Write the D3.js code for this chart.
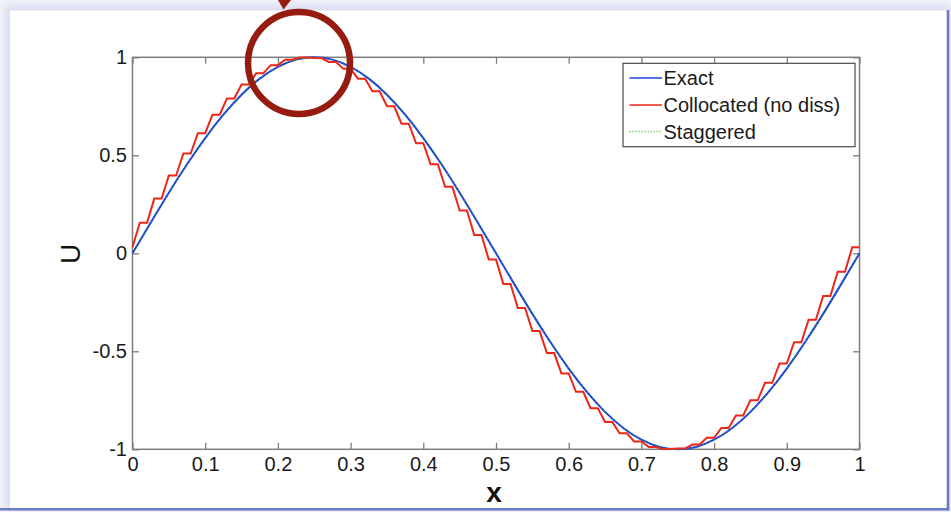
<!DOCTYPE html>
<html>
<head>
<meta charset="utf-8">
<script src="https://cdn.jsdelivr.net/npm/d3@7"></script>
<style>
  html, body { margin: 0; padding: 0; background: #ffffff; }
  svg { display: block; }
  text { font-family: "Liberation Sans", Arial, sans-serif; }
</style>
</head>
<body>
<svg id="chart" width="951" height="512"></svg>
<script>
// ---------------- DATA ----------------
// Exact solution U(x), read at x = 0, 0.025, ..., 1
const exactX = [0,0.025,0.05,0.075,0.1,0.125,0.15,0.175,0.2,0.225,0.25,0.275,0.3,0.325,0.35,0.375,0.4,0.425,0.45,0.475,0.5,
                0.525,0.55,0.575,0.6,0.625,0.65,0.675,0.7,0.725,0.75,0.775,0.8,0.825,0.85,0.875,0.9,0.925,0.95,0.975,1];
const exactU = [0,0.156,0.309,0.454,0.588,0.707,0.809,0.891,0.951,0.988,1,0.988,0.951,0.891,0.809,0.707,0.588,0.454,0.309,0.156,0,
                -0.156,-0.309,-0.454,-0.588,-0.707,-0.809,-0.891,-0.951,-0.988,-1,-0.988,-0.951,-0.891,-0.809,-0.707,-0.588,-0.454,-0.309,-0.156,0];
// Staggered scheme (visually on top of the exact curve)
const staggeredU = [0,0.156,0.309,0.454,0.588,0.707,0.809,0.891,0.951,0.988,1,0.988,0.951,0.891,0.809,0.707,0.588,0.454,0.309,0.156,0,
                -0.156,-0.309,-0.454,-0.588,-0.707,-0.809,-0.891,-0.951,-0.988,-1,-0.988,-0.951,-0.891,-0.809,-0.707,-0.588,-0.454,-0.309,-0.156,0];
// Collocated scheme (no dissipation): staircase, grid x = 0 ... 1 step 0.01
const collocX = [0,0.01,0.02,0.03,0.04,0.05,0.06,0.07,0.08,0.09,0.10,0.11,0.12,0.13,0.14,0.15,0.16,0.17,0.18,0.19,
                 0.20,0.21,0.22,0.23,0.24,0.25,0.26,0.27,0.28,0.29,0.30,0.31,0.32,0.33,0.34,0.35,0.36,0.37,0.38,0.39,
                 0.40,0.41,0.42,0.43,0.44,0.45,0.46,0.47,0.48,0.49,0.50,0.51,0.52,0.53,0.54,0.55,0.56,0.57,0.58,0.59,
                 0.60,0.61,0.62,0.63,0.64,0.65,0.66,0.67,0.68,0.69,0.70,0.71,0.72,0.73,0.74,0.75,0.76,0.77,0.78,0.79,
                 0.80,0.81,0.82,0.83,0.84,0.85,0.86,0.87,0.88,0.89,0.90,0.91,0.92,0.93,0.94,0.95,0.96,0.97,0.98,0.99,1.00];
const collocU = [0.031,
  0.156,0.156, 0.279,0.279, 0.397,0.397, 0.509,0.509, 0.613,0.613, 0.707,0.707, 0.790,0.790, 0.861,0.861, 0.918,0.918, 0.960,0.960,
  0.988,0.988, 0.999,0.999, 0.996,0.996, 0.976,0.976, 0.941,0.941, 0.891,0.891, 0.827,0.827, 0.750,0.750, 0.661,0.661, 0.562,0.562,
  0.454,0.454, 0.339,0.339, 0.218,0.218, 0.094,0.094, -0.031,-0.031, -0.156,-0.156, -0.279,-0.279, -0.397,-0.397, -0.509,-0.509,
  -0.613,-0.613, -0.707,-0.707, -0.790,-0.790, -0.861,-0.861, -0.918,-0.918, -0.960,-0.960, -0.988,-0.988, -0.999,-0.999, -0.996,-0.996,
  -0.976,-0.976, -0.941,-0.941, -0.891,-0.891, -0.827,-0.827, -0.750,-0.750, -0.661,-0.661, -0.562,-0.562, -0.454,-0.454, -0.339,-0.339,
  -0.218,-0.218, -0.094,-0.094, 0.031,0.031];

const xTicks = [0,0.1,0.2,0.3,0.4,0.5,0.6,0.7,0.8,0.9,1];
const xTickLabels = ["0","0.1","0.2","0.3","0.4","0.5","0.6","0.7","0.8","0.9","1"];
const yTicks = [-1,-0.5,0,0.5,1];
const yTickLabels = ["-1","-0.5","0","0.5","1"];
const seriesNames = ["Exact","Collocated (no diss)","Staggered"];
const xLabel = "x";
const yLabel = "U";

// ---------------- DRAW ----------------
const svg = d3.select("#chart");
const W = 951, H = 512;

// slide-like background with soft shadow and blue frame
const defs = svg.append("defs");
const blur = defs.append("filter").attr("id","sh").attr("x","-5%").attr("y","-5%").attr("width","110%").attr("height","110%");
blur.append("feGaussianBlur").attr("stdDeviation", 4);
svg.append("rect").attr("width", W).attr("height", H).attr("fill", "#f4f5fb");
svg.append("rect").attr("x", 4).attr("y", 4).attr("width", 946).attr("height", 506)
   .attr("fill", "#d9ddf0").attr("filter","url(#sh)");
svg.append("rect").attr("x", 10).attr("y", 10.5).attr("width", 938).attr("height", 498).attr("fill", "#ffffff");
svg.append("line").attr("x1", 948).attr("x2", 948).attr("y1", 10).attr("y2", 510.5)
   .attr("stroke", "#6b7cc6").attr("stroke-width", 2.6);
svg.append("line").attr("x1", 0).attr("x2", 949.3).attr("y1", 509.3).attr("y2", 509.3)
   .attr("stroke", "#6b7cc6").attr("stroke-width", 2.6);

const x = d3.scaleLinear().domain([0, 1]).range([132.5, 859.5]);
const y = d3.scaleLinear().domain([-1, 1]).range([449.3, 57.3]);

const axisColor = "#7d7d7d";
const tickLen = 6.5;

function styleAxis(g) {
  g.select(".domain").remove();
  g.selectAll(".tick line").attr("stroke", axisColor).attr("stroke-width", 1.3);
  g.selectAll(".tick text").attr("fill", "#1a1a1a").style("font-size", "20px")
   .style("font-family", "'Liberation Sans', Arial, sans-serif");
}

// bottom axis with labels
svg.append("g").attr("transform", `translate(0,${y(-1)})`)
  .call(d3.axisBottom(x).tickValues(xTicks).tickFormat((d, i) => xTickLabels[i])
        .tickSizeInner(-tickLen).tickSizeOuter(0).tickPadding(8))
  .call(styleAxis);
// top axis, ticks only
svg.append("g").attr("transform", `translate(0,${y(1)})`)
  .call(d3.axisTop(x).tickValues(xTicks).tickFormat("").tickSizeInner(-tickLen).tickSizeOuter(0))
  .call(styleAxis);
// left axis with labels
svg.append("g").attr("transform", `translate(${x(0)},0)`)
  .call(d3.axisLeft(y).tickValues(yTicks).tickFormat((d, i) => yTickLabels[i])
        .tickSizeInner(-tickLen).tickSizeOuter(0).tickPadding(5.5))
  .call(styleAxis);
// right axis, ticks only
svg.append("g").attr("transform", `translate(${x(1)},0)`)
  .call(d3.axisRight(y).tickValues(yTicks).tickFormat("").tickSizeInner(-tickLen).tickSizeOuter(0))
  .call(styleAxis);

// plot box
svg.append("rect").attr("x", x(0)).attr("y", y(1)).attr("width", x(1) - x(0)).attr("height", y(-1) - y(1))
   .attr("fill", "none").attr("stroke", axisColor).attr("stroke-width", 1.5);

// lines
const clip = defs.append("clipPath").attr("id", "plotclip");
clip.append("rect").attr("x", x(0) - 1).attr("y", y(1) - 1.5).attr("width", x(1) - x(0) + 2).attr("height", y(-1) - y(1) + 3);

const plot = svg.append("g").attr("clip-path", "url(#plotclip)");
const smooth = d3.line().x(d => x(d[0])).y(d => y(d[1])).curve(d3.curveNatural);
const straight = d3.line().x(d => x(d[0])).y(d => y(d[1]));

plot.append("path").datum(exactX.map((v, i) => [v, exactU[i]]))
  .attr("d", smooth).attr("fill", "none").attr("stroke", "#1a42d4").attr("stroke-width", 2);
plot.append("path").datum(collocX.map((v, i) => [v, collocU[i]]))
  .attr("d", straight).attr("fill", "none").attr("stroke", "#ef2516").attr("stroke-width", 2)
  .attr("stroke-linejoin", "miter");
plot.append("path").datum(exactX.map((v, i) => [v, staggeredU[i]]))
  .attr("d", smooth).attr("fill", "none").attr("stroke", "#3fb04f").attr("stroke-width", 1)
  .attr("stroke-dasharray", "1,3");

// legend
const lg = svg.append("g");
lg.append("rect").attr("x", 623).attr("y", 63.3).attr("width", 232).attr("height", 83.4)
  .attr("fill", "#ffffff").attr("stroke", "#4a4a4a").attr("stroke-width", 1.2);
const legendRowsY = [78, 105, 131.5];
const legendStyles = [
  {stroke: "#1a42d4", w: 1.6, dash: null},
  {stroke: "#ef2516", w: 1.6, dash: null},
  {stroke: "#72d072", w: 1.6, dash: "1.4,1.6"}
];
seriesNames.forEach((name, i) => {
  const s = legendStyles[i];
  const ln = lg.append("line").attr("x1", 629.5).attr("x2", 662).attr("y1", legendRowsY[i]).attr("y2", legendRowsY[i])
    .attr("stroke", s.stroke).attr("stroke-width", s.w);
  if (s.dash) ln.attr("stroke-dasharray", s.dash);
  lg.append("text").attr("x", 663.5).attr("y", legendRowsY[i]).attr("dy", "0.35em")
    .attr("fill", "#1a1a1a").style("font-size", "20px").text(name);
});

// axis titles
svg.append("text").attr("x", 494).attr("y", 502).attr("text-anchor", "middle")
  .style("font-size", "28px").style("font-weight", "bold").attr("fill", "#111").text(xLabel);
svg.append("text").attr("transform", "translate(80,254) rotate(-90)").attr("text-anchor", "middle")
  .style("font-size", "28px").attr("fill", "#111").text(yLabel);

// highlight circle with arrow tip
svg.append("circle").attr("cx", 299).attr("cy", 63).attr("r", 51)
  .attr("fill", "none").attr("stroke", "#961c10").attr("stroke-width", 6.5);
svg.append("path").attr("d", "M278,0 L291,0 L283.5,9.5 Z").attr("fill", "#961c10");
</script>
</body>
</html>
